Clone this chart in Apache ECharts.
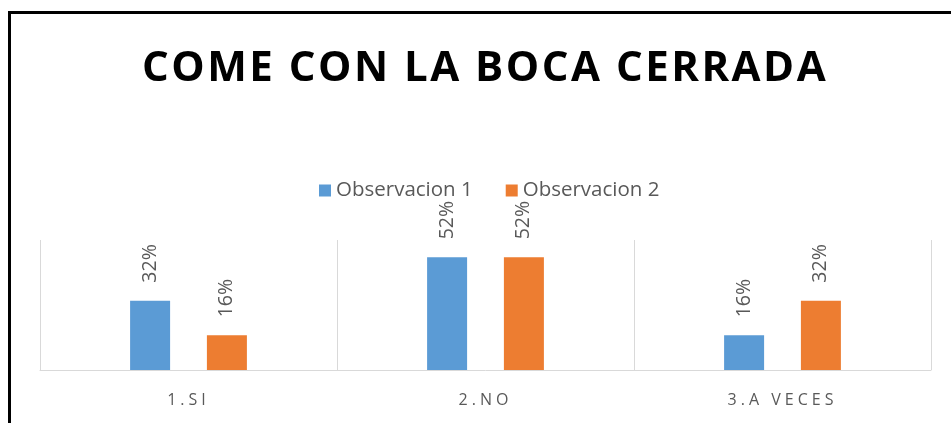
<!DOCTYPE html>
<html>
<head>
<meta charset="utf-8">
<script src="https://cdn.jsdelivr.net/npm/echarts@6/dist/echarts.min.js"></script>
<style>
html,body{margin:0;padding:0;background:#fff;}
#wrap{position:relative;width:951px;height:423px;overflow:hidden;}
#frame{position:absolute;left:8px;top:11px;width:960px;height:430px;border-left:3px solid #000;border-top:3px solid #000;box-sizing:border-box;pointer-events:none;}
#chart{position:absolute;left:0;top:0;width:951px;height:423px;}
</style>
</head>
<body>
<div id="wrap"><div id="chart"></div><div id="frame"></div></div>
<script>
const titleText = 'COME CON LA BOCA CERRADA';
const categories = ['1.SI', '2.NO', '3.A VECES'];
const seriesNames = ['Observacion 1', 'Observacion 2'];
const obs1 = [32, 52, 16];
const obs2 = [16, 52, 32];

// letter spacing for the title and the category labels (keyed by font size)
(function () {
  const spacing = {'42px': '2.5px', '16px': '4px'};
  const P = CanvasRenderingContext2D.prototype;
  if (!('letterSpacing' in P)) return;
  function setSp(ctx) {
    const m = (ctx.font || '').match(/(\d+(?:\.\d+)?)px/);
    ctx.letterSpacing = (m && spacing[m[0]]) || '0px';
  }
  const f = P.fillText, mt = P.measureText;
  P.fillText = function () { setSp(this); return f.apply(this, arguments); };
  P.measureText = function () { setSp(this); return mt.apply(this, arguments); };
})();

const labelStyle = {show: true, position: 'top', rotate: 90, distance: 18, align: 'left', verticalAlign: 'middle',
  formatter: '{c}%', fontFamily: 'Open Sans', fontSize: 19.5, color: '#595959'};

const chart = echarts.init(document.getElementById('chart'), null, {renderer: 'canvas'});
chart.setOption({
  backgroundColor: '#fff',
  animation: false,
  title: {
    text: titleText,
    left: 137,
    top: 42,
    textStyle: {fontFamily: 'Open Sans', fontWeight: 'bold', fontSize: 42, color: '#000'}
  },
  legend: {
    data: seriesNames,
    top: 175,
    left: 314,
    itemWidth: 12,
    itemHeight: 12,
    itemGap: 33,
    icon: 'rect',
    textStyle: {fontFamily: 'Open Sans', fontSize: 20.5, color: '#595959'}
  },
  grid: {left: 40, right: 20, top: 240, bottom: 53, containLabel: false},
  xAxis: {
    type: 'category',
    data: categories,
    axisLine: {lineStyle: {color: '#d9d9d9', width: 1}},
    axisTick: {show: false},
    splitLine: {show: true, lineStyle: {color: '#d9d9d9', width: 1}},
    axisLabel: {fontFamily: 'Open Sans', fontSize: 16, color: '#595959', margin: 20}
  },
  yAxis: {
    type: 'value', min: 0, max: 60, show: false,
    splitLine: {show: false}
  },
  series: [
    {
      name: seriesNames[0], type: 'bar', data: obs1,
      barWidth: 40, barGap: '92%',
      itemStyle: {color: '#5B9BD5'},
      label: labelStyle
    },
    {
      name: seriesNames[1], type: 'bar', data: obs2,
      barWidth: 40,
      itemStyle: {color: '#ED7D31'},
      label: labelStyle
    }
  ]
});
</script>
</body>
</html>
